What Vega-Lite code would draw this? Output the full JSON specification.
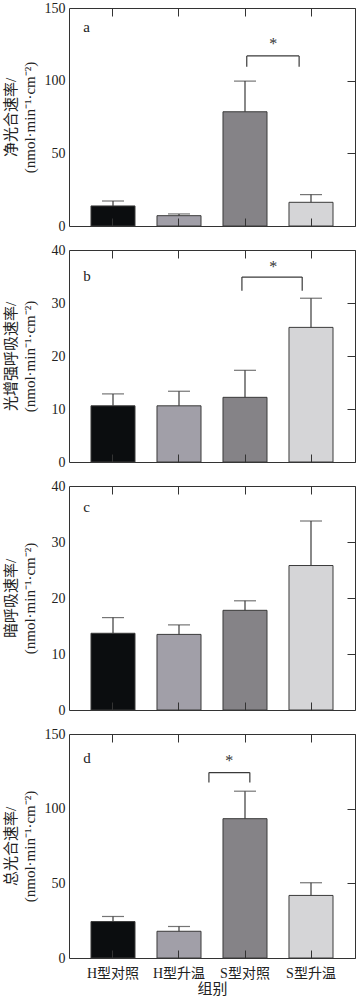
{
  "$schema": "https://vega.github.io/schema/vega-lite/v6.json",
  "padding": {"left": 2, "top": 0, "right": 2, "bottom": 2},
  "bounds": "flush",
  "spacing": 24,
  "datasets": {
    "bars": [
      {"panel": "a", "group": "H型对照", "mean": 13.8, "upper": 17.2},
      {"panel": "a", "group": "H型升温", "mean": 7.1, "upper": 8.3},
      {"panel": "a", "group": "S型对照", "mean": 78.6, "upper": 99.7},
      {"panel": "a", "group": "S型升温", "mean": 16.3, "upper": 21.6},
      {"panel": "b", "group": "H型对照", "mean": 10.6, "upper": 12.85},
      {"panel": "b", "group": "H型升温", "mean": 10.6, "upper": 13.35},
      {"panel": "b", "group": "S型对照", "mean": 12.2, "upper": 17.3},
      {"panel": "b", "group": "S型升温", "mean": 25.4, "upper": 30.9},
      {"panel": "c", "group": "H型对照", "mean": 13.7, "upper": 16.5},
      {"panel": "c", "group": "H型升温", "mean": 13.5, "upper": 15.2},
      {"panel": "c", "group": "S型对照", "mean": 17.8, "upper": 19.5},
      {"panel": "c", "group": "S型升温", "mean": 25.8, "upper": 33.75},
      {"panel": "d", "group": "H型对照", "mean": 24.4, "upper": 27.8},
      {"panel": "d", "group": "H型升温", "mean": 17.9, "upper": 21.1},
      {"panel": "d", "group": "S型对照", "mean": 93.3, "upper": 111.7},
      {"panel": "d", "group": "S型升温", "mean": 41.9, "upper": 50.4}
    ],
    "letters": [
      {"panel": "a", "group": "H型对照", "letter": "a", "y": 133.7},
      {"panel": "b", "group": "H型对照", "letter": "b", "y": 34.1},
      {"panel": "c", "group": "H型对照", "letter": "c", "y": 35.4},
      {"panel": "d", "group": "H型对照", "letter": "d", "y": 130.3}
    ],
    "brackets": [
      {"panel": "a", "from": "S型对照", "to": "S型升温", "top": 117, "bottom": 109.6, "star": 121.8, "sig": "*"},
      {"panel": "b", "from": "S型对照", "to": "S型升温", "top": 34.9, "bottom": 32.3, "star": 35.9, "sig": "*"},
      {"panel": "d", "from": "S型对照", "to": "S型对照", "top": 124.2, "bottom": 117.5, "star": 128.4, "sig": "*"}
    ]
  },
  "vconcat": [
    {
      "width": 286, "height": 218,
      "layer": [
        {"data": {"name": "bars"}, "transform": [{"filter": "datum.panel === 'a'"}],
         "mark": {"type": "bar", "stroke": "#3a3a3a", "strokeWidth": 1},
         "encoding": {
           "x": {"field": "group", "type": "nominal", "scale": {"domain": ["H型对照", "H型升温", "S型对照", "S型升温"], "paddingInner": 0.3333, "paddingOuter": 0.3333},
                 "axis": {"orient": "bottom", "labels": false, "title": null, "tickSize": -8, "zindex": 1}},
           "y": {"field": "mean", "type": "quantitative", "scale": {"domain": [0, 150], "nice": false},
                 "axis": {"orient": "left", "values": [0, 50, 100, 150], "ticks": false, "labelPadding": 4, "title": ["净光合速率/", "(nmol·min⁻¹·cm⁻²)"], "titleX": -51, "titleY": 109}},
           "fill": {"field": "group", "type": "nominal", "scale": {"domain": ["H型对照", "H型升温", "S型对照", "S型升温"], "range": ["#0b0d0f", "#a19fa8", "#858387", "#d5d5d7"]}, "legend": null}
         }},
        {"data": {"name": "bars"}, "transform": [{"filter": "datum.panel === 'a'"}],
         "mark": {"type": "rule", "stroke": "#3a3a3a", "strokeWidth": 1.2},
         "encoding": {
           "x": {"field": "group", "type": "nominal", "axis": {"orient": "top", "labels": false, "title": null, "tickSize": -8, "zindex": 1}},
           "y": {"field": "mean", "type": "quantitative", "axis": {"orient": "right", "labels": false, "title": null, "tickSize": -8, "values": [0, 50, 100, 150]}},
           "y2": {"field": "upper"}
         }},
        {"data": {"name": "bars"}, "transform": [{"filter": "datum.panel === 'a'"}],
         "mark": {"type": "tick", "size": 22, "thickness": 1.2, "color": "#3a3a3a"},
         "encoding": {
           "x": {"field": "group", "type": "nominal", "axis": null},
           "y": {"field": "upper", "type": "quantitative", "axis": null}
         }},
        {"data": {"name": "letters"}, "transform": [{"filter": "datum.panel === 'a'"}],
         "mark": {"type": "text", "align": "left", "baseline": "alphabetic", "fontSize": 15, "color": "#222"},
         "encoding": {
           "x": {"field": "group", "type": "nominal", "bandPosition": -0.175, "axis": null},
           "y": {"field": "y", "type": "quantitative", "axis": null},
           "text": {"field": "letter"}
         }},
        {"data": {"name": "brackets"}, "transform": [{"filter": "datum.panel === 'a'"}],
         "mark": {"type": "rule", "stroke": "#3a3a3a", "strokeWidth": 1.2},
         "encoding": {
           "x": {"field": "from", "type": "nominal", "bandPosition": 0.54, "axis": null},
           "y": {"field": "bottom", "type": "quantitative", "axis": null},
           "y2": {"field": "top"}
         }},
        {"data": {"name": "brackets"}, "transform": [{"filter": "datum.panel === 'a'"}],
         "mark": {"type": "rule", "stroke": "#3a3a3a", "strokeWidth": 1.2},
         "encoding": {
           "x": {"field": "to", "type": "nominal", "bandPosition": 0.23, "axis": null},
           "y": {"field": "bottom", "type": "quantitative", "axis": null},
           "y2": {"field": "top"}
         }},
        {"data": {"name": "brackets"}, "transform": [{"filter": "datum.panel === 'a'"}],
         "mark": {"type": "rule", "stroke": "#3a3a3a", "strokeWidth": 1.2},
         "encoding": {
           "x": {"field": "from", "type": "nominal", "bandPosition": 0.54, "axis": null},
           "x2": {"field": "to", "bandPosition": 0.23},
           "y": {"field": "top", "type": "quantitative", "axis": null}
         }},
        {"data": {"name": "brackets"}, "transform": [{"filter": "datum.panel === 'a'"}],
         "mark": {"type": "text", "align": "center", "baseline": "alphabetic", "fontSize": 16, "color": "#333"},
         "encoding": {
           "x": {"field": "from", "type": "nominal", "bandPosition": 1.14, "axis": null},
           "y": {"field": "star", "type": "quantitative", "axis": null},
           "text": {"field": "sig"}
         }}
      ]
    },
    {
      "width": 286, "height": 212,
      "layer": [
        {"data": {"name": "bars"}, "transform": [{"filter": "datum.panel === 'b'"}],
         "mark": {"type": "bar", "stroke": "#3a3a3a", "strokeWidth": 1},
         "encoding": {
           "x": {"field": "group", "type": "nominal", "scale": {"domain": ["H型对照", "H型升温", "S型对照", "S型升温"], "paddingInner": 0.3333, "paddingOuter": 0.3333},
                 "axis": {"orient": "bottom", "labels": false, "title": null, "tickSize": -8, "zindex": 1}},
           "y": {"field": "mean", "type": "quantitative", "scale": {"domain": [0, 40], "nice": false},
                 "axis": {"orient": "left", "values": [0, 10, 20, 30, 40], "ticks": false, "labelPadding": 4, "title": ["光增强呼吸速率/", "(nmol·min⁻¹·cm⁻²)"], "titleX": -51, "titleY": 106}},
           "fill": {"field": "group", "type": "nominal", "scale": {"domain": ["H型对照", "H型升温", "S型对照", "S型升温"], "range": ["#0b0d0f", "#a19fa8", "#858387", "#d5d5d7"]}, "legend": null}
         }},
        {"data": {"name": "bars"}, "transform": [{"filter": "datum.panel === 'b'"}],
         "mark": {"type": "rule", "stroke": "#3a3a3a", "strokeWidth": 1.2},
         "encoding": {
           "x": {"field": "group", "type": "nominal", "axis": {"orient": "top", "labels": false, "title": null, "tickSize": -8, "zindex": 1}},
           "y": {"field": "mean", "type": "quantitative", "axis": {"orient": "right", "labels": false, "title": null, "tickSize": -8, "values": [0, 10, 20, 30, 40]}},
           "y2": {"field": "upper"}
         }},
        {"data": {"name": "bars"}, "transform": [{"filter": "datum.panel === 'b'"}],
         "mark": {"type": "tick", "size": 22, "thickness": 1.2, "color": "#3a3a3a"},
         "encoding": {
           "x": {"field": "group", "type": "nominal", "axis": null},
           "y": {"field": "upper", "type": "quantitative", "axis": null}
         }},
        {"data": {"name": "letters"}, "transform": [{"filter": "datum.panel === 'b'"}],
         "mark": {"type": "text", "align": "left", "baseline": "alphabetic", "fontSize": 15, "color": "#222"},
         "encoding": {
           "x": {"field": "group", "type": "nominal", "bandPosition": -0.175, "axis": null},
           "y": {"field": "y", "type": "quantitative", "axis": null},
           "text": {"field": "letter"}
         }},
        {"data": {"name": "brackets"}, "transform": [{"filter": "datum.panel === 'b'"}],
         "mark": {"type": "rule", "stroke": "#3a3a3a", "strokeWidth": 1.2},
         "encoding": {
           "x": {"field": "from", "type": "nominal", "bandPosition": 0.43, "axis": null},
           "y": {"field": "bottom", "type": "quantitative", "axis": null},
           "y2": {"field": "top"}
         }},
        {"data": {"name": "brackets"}, "transform": [{"filter": "datum.panel === 'b'"}],
         "mark": {"type": "rule", "stroke": "#3a3a3a", "strokeWidth": 1.2},
         "encoding": {
           "x": {"field": "to", "type": "nominal", "bandPosition": 0.3, "axis": null},
           "y": {"field": "bottom", "type": "quantitative", "axis": null},
           "y2": {"field": "top"}
         }},
        {"data": {"name": "brackets"}, "transform": [{"filter": "datum.panel === 'b'"}],
         "mark": {"type": "rule", "stroke": "#3a3a3a", "strokeWidth": 1.2},
         "encoding": {
           "x": {"field": "from", "type": "nominal", "bandPosition": 0.43, "axis": null},
           "x2": {"field": "to", "bandPosition": 0.3},
           "y": {"field": "top", "type": "quantitative", "axis": null}
         }},
        {"data": {"name": "brackets"}, "transform": [{"filter": "datum.panel === 'b'"}],
         "mark": {"type": "text", "align": "center", "baseline": "alphabetic", "fontSize": 16, "color": "#333"},
         "encoding": {
           "x": {"field": "from", "type": "nominal", "bandPosition": 1.14, "axis": null},
           "y": {"field": "star", "type": "quantitative", "axis": null},
           "text": {"field": "sig"}
         }}
      ]
    },
    {
      "width": 286, "height": 224,
      "layer": [
        {"data": {"name": "bars"}, "transform": [{"filter": "datum.panel === 'c'"}],
         "mark": {"type": "bar", "stroke": "#3a3a3a", "strokeWidth": 1},
         "encoding": {
           "x": {"field": "group", "type": "nominal", "scale": {"domain": ["H型对照", "H型升温", "S型对照", "S型升温"], "paddingInner": 0.3333, "paddingOuter": 0.3333},
                 "axis": {"orient": "bottom", "labels": false, "title": null, "tickSize": -8, "zindex": 1}},
           "y": {"field": "mean", "type": "quantitative", "scale": {"domain": [0, 40], "nice": false},
                 "axis": {"orient": "left", "values": [0, 10, 20, 30, 40], "ticks": false, "labelPadding": 4, "title": ["暗呼吸速率/", "(nmol·min⁻¹·cm⁻²)"], "titleX": -51, "titleY": 112}},
           "fill": {"field": "group", "type": "nominal", "scale": {"domain": ["H型对照", "H型升温", "S型对照", "S型升温"], "range": ["#0b0d0f", "#a19fa8", "#858387", "#d5d5d7"]}, "legend": null}
         }},
        {"data": {"name": "bars"}, "transform": [{"filter": "datum.panel === 'c'"}],
         "mark": {"type": "rule", "stroke": "#3a3a3a", "strokeWidth": 1.2},
         "encoding": {
           "x": {"field": "group", "type": "nominal", "axis": {"orient": "top", "labels": false, "title": null, "tickSize": -8, "zindex": 1}},
           "y": {"field": "mean", "type": "quantitative", "axis": {"orient": "right", "labels": false, "title": null, "tickSize": -8, "values": [0, 10, 20, 30, 40]}},
           "y2": {"field": "upper"}
         }},
        {"data": {"name": "bars"}, "transform": [{"filter": "datum.panel === 'c'"}],
         "mark": {"type": "tick", "size": 22, "thickness": 1.2, "color": "#3a3a3a"},
         "encoding": {
           "x": {"field": "group", "type": "nominal", "axis": null},
           "y": {"field": "upper", "type": "quantitative", "axis": null}
         }},
        {"data": {"name": "letters"}, "transform": [{"filter": "datum.panel === 'c'"}],
         "mark": {"type": "text", "align": "left", "baseline": "alphabetic", "fontSize": 15, "color": "#222"},
         "encoding": {
           "x": {"field": "group", "type": "nominal", "bandPosition": -0.175, "axis": null},
           "y": {"field": "y", "type": "quantitative", "axis": null},
           "text": {"field": "letter"}
         }}
      ]
    },
    {
      "width": 286, "height": 224,
      "layer": [
        {"data": {"name": "bars"}, "transform": [{"filter": "datum.panel === 'd'"}],
         "mark": {"type": "bar", "stroke": "#3a3a3a", "strokeWidth": 1},
         "encoding": {
           "x": {"field": "group", "type": "nominal", "scale": {"domain": ["H型对照", "H型升温", "S型对照", "S型升温"], "paddingInner": 0.3333, "paddingOuter": 0.3333},
                 "axis": {"orient": "bottom", "labels": true, "labelAngle": 0, "labelFontSize": 14, "labelPadding": 16, "title": "组别", "titleFontSize": 15, "titlePadding": 1, "tickSize": -8, "zindex": 1}},
           "y": {"field": "mean", "type": "quantitative", "scale": {"domain": [0, 150], "nice": false},
                 "axis": {"orient": "left", "values": [0, 50, 100, 150], "ticks": false, "labelPadding": 4, "title": ["总光合速率/", "(nmol·min⁻¹·cm⁻²)"], "titleX": -51, "titleY": 112}},
           "fill": {"field": "group", "type": "nominal", "scale": {"domain": ["H型对照", "H型升温", "S型对照", "S型升温"], "range": ["#0b0d0f", "#a19fa8", "#858387", "#d5d5d7"]}, "legend": null}
         }},
        {"data": {"name": "bars"}, "transform": [{"filter": "datum.panel === 'd'"}],
         "mark": {"type": "rule", "stroke": "#3a3a3a", "strokeWidth": 1.2},
         "encoding": {
           "x": {"field": "group", "type": "nominal", "axis": {"orient": "top", "labels": false, "title": null, "tickSize": -8, "zindex": 1}},
           "y": {"field": "mean", "type": "quantitative", "axis": {"orient": "right", "labels": false, "title": null, "tickSize": -8, "values": [0, 50, 100, 150]}},
           "y2": {"field": "upper"}
         }},
        {"data": {"name": "bars"}, "transform": [{"filter": "datum.panel === 'd'"}],
         "mark": {"type": "tick", "size": 22, "thickness": 1.2, "color": "#3a3a3a"},
         "encoding": {
           "x": {"field": "group", "type": "nominal", "axis": null},
           "y": {"field": "upper", "type": "quantitative", "axis": null}
         }},
        {"data": {"name": "letters"}, "transform": [{"filter": "datum.panel === 'd'"}],
         "mark": {"type": "text", "align": "left", "baseline": "alphabetic", "fontSize": 15, "color": "#222"},
         "encoding": {
           "x": {"field": "group", "type": "nominal", "bandPosition": -0.175, "axis": null},
           "y": {"field": "y", "type": "quantitative", "axis": null},
           "text": {"field": "letter"}
         }},
        {"data": {"name": "brackets"}, "transform": [{"filter": "datum.panel === 'd'"}],
         "mark": {"type": "rule", "stroke": "#3a3a3a", "strokeWidth": 1.2},
         "encoding": {
           "x": {"field": "from", "type": "nominal", "bandPosition": -0.32, "axis": null},
           "y": {"field": "bottom", "type": "quantitative", "axis": null},
           "y2": {"field": "top"}
         }},
        {"data": {"name": "brackets"}, "transform": [{"filter": "datum.panel === 'd'"}],
         "mark": {"type": "rule", "stroke": "#3a3a3a", "strokeWidth": 1.2},
         "encoding": {
           "x": {"field": "to", "type": "nominal", "bandPosition": 0.61, "axis": null},
           "y": {"field": "bottom", "type": "quantitative", "axis": null},
           "y2": {"field": "top"}
         }},
        {"data": {"name": "brackets"}, "transform": [{"filter": "datum.panel === 'd'"}],
         "mark": {"type": "rule", "stroke": "#3a3a3a", "strokeWidth": 1.2},
         "encoding": {
           "x": {"field": "from", "type": "nominal", "bandPosition": -0.32, "axis": null},
           "x2": {"field": "to", "bandPosition": 0.61},
           "y": {"field": "top", "type": "quantitative", "axis": null}
         }},
        {"data": {"name": "brackets"}, "transform": [{"filter": "datum.panel === 'd'"}],
         "mark": {"type": "text", "align": "center", "baseline": "alphabetic", "fontSize": 16, "color": "#333"},
         "encoding": {
           "x": {"field": "from", "type": "nominal", "bandPosition": 0.14, "axis": null},
           "y": {"field": "star", "type": "quantitative", "axis": null},
           "text": {"field": "sig"}
         }}
      ]
    }
  ],
  "config": {
    "font": "Liberation Serif, Noto Sans CJK SC",
    "view": {"stroke": "#333", "strokeWidth": 1},
    "axis": {
      "domain": false, "grid": false,
      "labelFont": "Liberation Serif, Noto Sans CJK SC", "titleFont": "Liberation Serif, Noto Sans CJK SC",
      "labelFontSize": 14, "titleFontSize": 15, "titleFontWeight": "normal", "titleLineHeight": 19,
      "labelColor": "#222", "titleColor": "#222", "tickColor": "#333", "tickWidth": 1
    }
  }
}
